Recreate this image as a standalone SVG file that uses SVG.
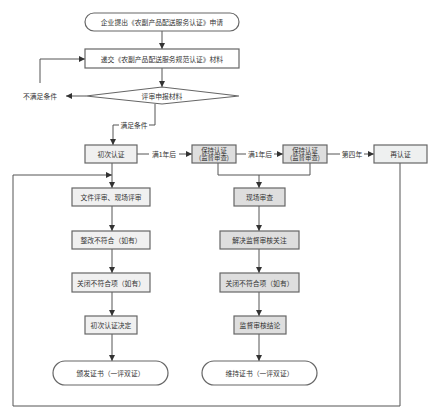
<svg xmlns="http://www.w3.org/2000/svg" width="440" height="419" viewBox="0 0 440 419">
<style>
text{font-family:"Noto Sans CJK SC","Noto Sans",sans-serif;font-size:6.8px;fill:#333;text-anchor:middle;dominant-baseline:central}
.sm{font-size:6.4px}
.box{stroke:#666;stroke-width:1.2;fill:#fff}
.l{fill:#f0f0f0}
.d{fill:#dedede}
.c{fill:#eef0f0}
.ln{fill:none;stroke:#555;stroke-width:1}
.lab{fill:#fff}
</style>
<defs>
<marker id="a" viewBox="0 0 10 10" refX="10" refY="5" markerWidth="6" markerHeight="6" markerUnits="userSpaceOnUse" orient="auto">
<path d="M0,0 L10,5 L0,10 z" fill="#333"/>
</marker>
</defs>
<rect width="440" height="419" fill="#fff"/>
<g id="connectors">
<path class="ln" d="M162,31 V49" marker-end="url(#a)"/>
<path class="ln" d="M162,68 V87" marker-end="url(#a)"/>
<path class="ln" d="M86,96 H66" marker-end="url(#a)"/>
<path class="ln" d="M40,83 V59 H85" marker-end="url(#a)"/>
<path class="ln" d="M155,104 V125 H113 V145" marker-end="url(#a)"/>
<rect class="lab" x="119" y="121" width="30" height="8"/>
<text x="134" y="125">满足条件</text>
<path class="ln" d="M137,154 H192" marker-end="url(#a)"/>
<rect class="lab" x="149" y="150" width="30" height="8"/>
<text x="164" y="154">满1年后</text>
<path class="ln" d="M236,154 H283" marker-end="url(#a)"/>
<rect class="lab" x="246" y="150" width="28" height="8"/>
<text x="260" y="154">满1年后</text>
<path class="ln" d="M327,154 H374" marker-end="url(#a)"/>
<rect class="lab" x="340" y="150" width="24" height="8"/>
<text x="352" y="154">第四年</text>
<path class="ln" d="M218,163 V175 H310 V163"/>
<path class="ln" d="M259,175 V188" marker-end="url(#a)"/>
<path class="ln" d="M400,163 V406 H13 V175 H112" marker-end="url(#a)"/>
<path class="ln" d="M112,163 V188" marker-end="url(#a)"/>
<path class="ln" d="M112,206 V231" marker-end="url(#a)"/>
<path class="ln" d="M112,249 V273" marker-end="url(#a)"/>
<path class="ln" d="M112,292 V316" marker-end="url(#a)"/>
<path class="ln" d="M112,334 V361" marker-end="url(#a)"/>
<path class="ln" d="M259,206 V231" marker-end="url(#a)"/>
<path class="ln" d="M259,249 V273" marker-end="url(#a)"/>
<path class="ln" d="M259,292 V316" marker-end="url(#a)"/>
<path class="ln" d="M259,334 V361" marker-end="url(#a)"/>
</g>
<g id="start"><rect class="box" x="85" y="13" width="154" height="18" rx="9"/><text x="162" y="22">企业提出《农副产品配送服务认证》申请</text></g>
<g id="submit"><rect class="box" x="85" y="49" width="154" height="19"/><text x="162" y="58.5">递交《农副产品配送服务规范认证》材料</text></g>
<g id="review"><polygon class="box" points="86,96 162,87 239,96 162,104"/><text x="162" y="96">评审申报材料</text></g>
<g id="notmet"><text x="40" y="96">不满足条件</text></g>
<g id="initial"><rect class="box l" x="85" y="145" width="52" height="18"/><text x="111" y="154">初次认证</text></g>
<g id="keep1"><rect class="box d" x="192" y="145" width="44" height="18"/><text class="sm" x="214" y="150.2">保持认证</text><text class="sm" x="214" y="157.8">(监督审查)</text></g>
<g id="keep2"><rect class="box d" x="283" y="145" width="44" height="18"/><text class="sm" x="305" y="150.2">保持认证</text><text class="sm" x="305" y="157.8">(监督审查)</text></g>
<g id="recert"><rect class="box c" x="374" y="145" width="53" height="18"/><text x="400.5" y="154">再认证</text></g>
<g id="docreview"><rect class="box l" x="72" y="188" width="78" height="18"/><text x="111" y="197">文件评审、现场评审</text></g>
<g id="rectify"><rect class="box l" x="72" y="231" width="78" height="18"/><text x="111" y="240">整改不符合（如有）</text></g>
<g id="close1"><rect class="box l" x="72" y="273" width="78" height="19"/><text x="111" y="282.5">关闭不符合项（如有）</text></g>
<g id="decision"><rect class="box l" x="85" y="316" width="52" height="18"/><text x="111" y="325">初次认证决定</text></g>
<g id="issue"><rect class="box" x="53" y="361" width="115" height="24" rx="12"/><text x="110.5" y="373">颁发证书（一评双证）</text></g>
<g id="onsite"><rect class="box d" x="234" y="188" width="51" height="18"/><text x="259.5" y="197">现场审查</text></g>
<g id="resolve"><rect class="box d" x="220" y="231" width="79" height="18"/><text x="259.5" y="240">解决监督审核关注</text></g>
<g id="close2"><rect class="box d" x="220" y="273" width="79" height="19"/><text x="259.5" y="282.5">关闭不符合项（如有）</text></g>
<g id="conclusion"><rect class="box d" x="234" y="316" width="52" height="18"/><text x="260" y="325">监督审核结论</text></g>
<g id="maintain"><rect class="box" x="202" y="361" width="115" height="24" rx="12"/><text x="259.5" y="373">维持证书（一评双证）</text></g>
</svg>
